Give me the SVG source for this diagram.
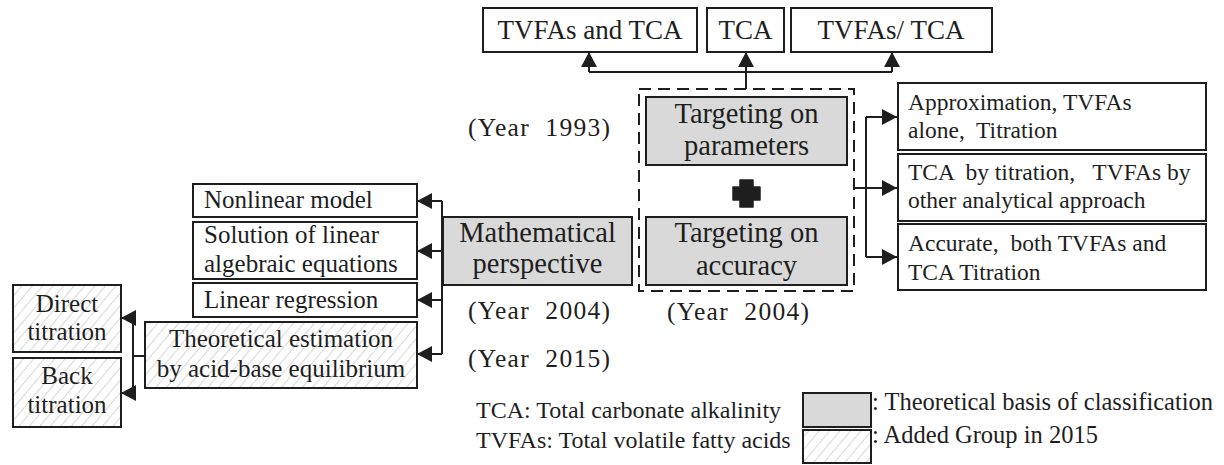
<svg xmlns="http://www.w3.org/2000/svg" width="1224" height="465" viewBox="0 0 1224 465">
<style>
text{font-family:"Liberation Serif","Times New Roman",serif;fill:#1e1e1e}
.box{fill:#fff;stroke:#1e1e1e;stroke-width:2}
.gray{fill:#d9d9d9;stroke:#1e1e1e;stroke-width:2}
.hatch{fill:url(#hp);stroke:#1e1e1e;stroke-width:2}
.dash{fill:none;stroke:#1e1e1e;stroke-width:2;stroke-dasharray:12 7}
.ln{fill:none;stroke:#1e1e1e;stroke-width:2}
.arr{fill:none;stroke:#1e1e1e;stroke-width:2;marker-end:url(#ah)}
.t27{font-size:27px}
.t28{font-size:28.5px}
.t23{font-size:23.5px}
.t25{font-size:25px}
.tl{font-size:24px}
.tr{font-size:24.5px}
.yr{font-size:25.5px;letter-spacing:1.3px}
.c{text-anchor:middle}
</style>
<defs>
<marker id="ah" markerUnits="userSpaceOnUse" markerWidth="16" markerHeight="16" refX="15" refY="8" orient="auto">
<path d="M0,0 L15,8 L0,16 Z" fill="#1e1e1e"/>
</marker>
<pattern id="hp" patternUnits="userSpaceOnUse" width="8" height="8" patternTransform="rotate(40)">
<rect width="8" height="8" fill="#fff"/>
<line x1="0" y1="0" x2="0" y2="8" stroke="#b0b0b0" stroke-width="1"/>
</pattern>
</defs>

<g id="connectors">
<path class="ln" d="M746,89 V72 M589,72 H892"/>
<path class="arr" d="M746,72 V52"/>
<path class="arr" d="M589,72 V52"/>
<path class="arr" d="M892,72 V52"/>
<path class="ln" d="M854,188 H866 M866,117 V257"/>
<path class="arr" d="M866,117 H897"/>
<path class="arr" d="M866,188 H897"/>
<path class="arr" d="M866,257 H897"/>
<path class="ln" d="M442,201 V354"/>
<path class="arr" d="M442,201 H417"/>
<path class="arr" d="M442,251 H417"/>
<path class="arr" d="M442,300 H417"/>
<path class="arr" d="M442,354 H417"/>
<path class="ln" d="M145,356 H133 M133,318 V393"/>
<path class="arr" d="M133,318 H121"/>
<path class="arr" d="M133,393 H121"/>
</g>

<g id="top-tvfas-tca"><rect class="box" x="483" y="8" width="214" height="44"/><text class="t27 c" x="590" y="39">TVFAs and TCA</text></g>
<g id="top-tca"><rect class="box" x="707" y="8" width="77" height="44"/><text class="t27 c" x="745.5" y="39">TCA</text></g>
<g id="top-tvfas-slash-tca"><rect class="box" x="791" y="8" width="201" height="44"/><text class="t27 c" x="891" y="39" xml:space="preserve">TVFAs/ TCA</text></g>

<g id="group-2004"><rect class="dash" x="639" y="89" width="215" height="202"/></g>
<g id="targeting-parameters"><rect class="gray" x="646" y="97" width="201" height="68"/><text class="t28 c" x="746.5" y="123">Targeting on</text><text class="t28 c" x="746.5" y="155">parameters</text></g>
<g id="plus"><path d="M740,180 H753 V187 H760 V200 H753 V207 H740 V200 H733 V187 H740 Z" fill="#1e1e1e" stroke="#1e1e1e" stroke-width="1.5" stroke-linejoin="round"/></g>
<g id="targeting-accuracy"><rect class="gray" x="646" y="217" width="201" height="68"/><text class="t28 c" x="746.5" y="242">Targeting on</text><text class="t28 c" x="746.5" y="275">accuracy</text></g>

<g id="approximation"><rect class="box" x="898" y="83" width="308" height="67"/><text class="t23" x="908" y="110">Approximation, TVFAs</text><text class="t23" x="908" y="138" xml:space="preserve">alone,  Titration</text></g>
<g id="tca-by-titration"><rect class="box" x="898" y="154" width="308" height="67"/><text class="t23" x="908" y="180" xml:space="preserve">TCA  by titration,   TVFAs by</text><text class="t23" x="908" y="208">other analytical approach</text></g>
<g id="accurate"><rect class="box" x="898" y="224" width="308" height="66"/><text class="t23" x="908" y="251" xml:space="preserve">Accurate,  both TVFAs and</text><text class="t23" x="908" y="280">TCA Titration</text></g>

<g id="year-1993"><text class="yr" x="468" y="136" xml:space="preserve">(Year  1993)</text></g>
<g id="year-2004-a"><text class="yr" x="468" y="319" xml:space="preserve">(Year  2004)</text></g>
<g id="year-2015"><text class="yr" x="468" y="367" xml:space="preserve">(Year  2015)</text></g>
<g id="year-2004-b"><text class="yr" x="667" y="320" xml:space="preserve">(Year  2004)</text></g>

<g id="mathematical"><rect class="gray" x="443" y="217" width="189" height="68"/><text class="t28 c" x="537.5" y="242">Mathematical</text><text class="t28 c" x="537.5" y="273">perspective</text></g>

<g id="nonlinear"><rect class="box" x="193" y="184" width="224" height="33"/><text class="t25" x="204" y="208">Nonlinear model</text></g>
<g id="solution"><rect class="box" x="193" y="222" width="224" height="57"/><text class="t25" x="204" y="243">Solution of linear</text><text class="t25" x="204" y="272">algebraic equations</text></g>
<g id="linear-regression"><rect class="box" x="193" y="283" width="224" height="34"/><text class="t25" x="204" y="308">Linear regression</text></g>
<g id="theoretical"><rect class="hatch" x="145" y="322" width="272" height="66"/><text class="t25 c" x="281" y="347">Theoretical estimation</text><text class="t25 c" x="281" y="377">by acid-base equilibrium</text></g>
<g id="direct"><rect class="hatch" x="13" y="285" width="108" height="67"/><text class="t25 c" x="67" y="312">Direct</text><text class="t25 c" x="67" y="340">titration</text></g>
<g id="back"><rect class="hatch" x="13" y="358" width="108" height="69"/><text class="t25 c" x="67" y="384">Back</text><text class="t25 c" x="67" y="413">titration</text></g>

<g id="legend">
<text class="tl" x="476" y="418">TCA: Total carbonate alkalinity</text>
<text class="tl" x="476" y="448">TVFAs: Total volatile fatty acids</text>
<rect class="gray" x="803" y="393" width="68" height="34"/>
<rect class="hatch" x="803" y="430" width="68" height="33"/>
<text class="tr" x="872" y="410">: Theoretical basis of classification</text>
<text class="tr" x="872" y="443">: Added Group in 2015</text>
</g>
</svg>
